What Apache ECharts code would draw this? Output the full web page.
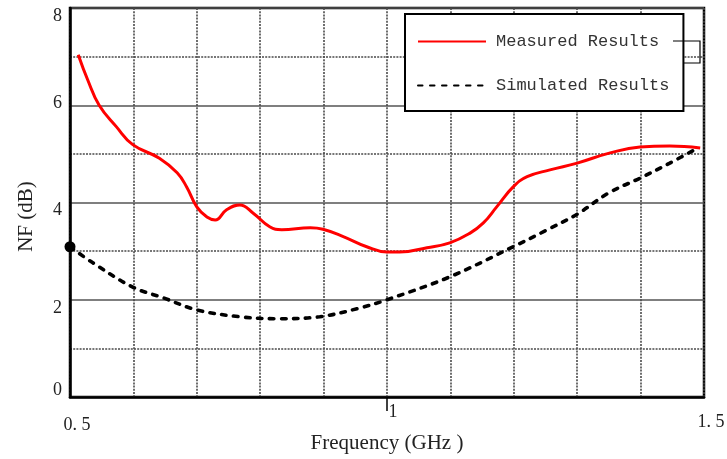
<!DOCTYPE html>
<html>
<head>
<meta charset="utf-8">
<script src="https://cdn.jsdelivr.net/npm/echarts@6/dist/echarts.min.js"></script>
<style>
  html, body { margin: 0; padding: 0; background: #fff; }
  #chart { width: 727px; height: 459px; }
</style>
</head>
<body>
<div id="chart"></div>
<script>
// Noise figure vs frequency
const measuredFreq = [0.513, 0.528, 0.546, 0.573, 0.599, 0.641, 0.669, 0.684, 0.700, 0.716, 0.729, 0.747, 0.768, 0.789, 0.815, 0.834, 0.879, 0.899, 0.931, 0.968, 1.000, 1.020, 1.063, 1.099, 1.131, 1.152, 1.173, 1.199, 1.221, 1.257, 1.300, 1.352, 1.399, 1.446, 1.494];
const measuredNF   = [7.04, 6.52, 6.00, 5.56, 5.19, 4.91, 4.61, 4.32, 3.91, 3.70, 3.64, 3.85, 3.95, 3.78, 3.50, 3.44, 3.48, 3.45, 3.30, 3.09, 2.98, 2.98, 3.07, 3.17, 3.37, 3.58, 3.91, 4.32, 4.53, 4.67, 4.81, 5.02, 5.14, 5.16, 5.12];

const simulatedFreq = [0.500, 0.536, 0.599, 0.647, 0.700, 0.768, 0.826, 0.894, 0.957, 1.000, 1.099, 1.199, 1.250, 1.300, 1.350, 1.399, 1.446, 1.490];
const simulatedNF   = [3.09, 2.76, 2.26, 2.04, 1.79, 1.65, 1.61, 1.65, 1.83, 2.00, 2.47, 3.09, 3.42, 3.76, 4.20, 4.50, 4.81, 5.12];

const xTickValues = [0.5, 1, 1.5];
const xTickTexts  = ['0. 5', '1', '1. 5'];
const yTickValues = [0, 2, 4, 6, 8];
const yTickTexts  = ['0', '2', '4', '6', '8'];

const seriesNames = ['Measured Results', 'Simulated Results'];

const serif = 'Liberation Serif';
const gridColor = '#4a4a4a';

const measuredData = measuredFreq.map((f, i) => [f, measuredNF[i]]);
const simulatedData = simulatedFreq.map((f, i) => (
  i === 0 ? { value: [f, simulatedNF[i]], symbol: 'circle', symbolSize: 11 } : [f, simulatedNF[i]]
));

function findIndex(values, v) {
  for (let i = 0; i < values.length; i++) if (Math.abs(values[i] - v) < 1e-6) return i;
  return -1;
}

const xRich = {
  a: { fontFamily: serif, fontSize: 18, color: '#222', padding: [13, 0, 0, 14] },
  b: { fontFamily: serif, fontSize: 18, color: '#222', padding: [0, 0, 0, 12] },
  c: { fontFamily: serif, fontSize: 18, color: '#222', padding: [10, 0, 0, 14] }
};
const xStyleKeys = ['a', 'b', 'c'];

const yRich = {
  p0: { fontFamily: serif, fontSize: 18, color: '#222', padding: [0, 0, 14, 0] },
  p2: { fontFamily: serif, fontSize: 18, color: '#222', padding: [17, 0, 0, 0] },
  p4: { fontFamily: serif, fontSize: 18, color: '#222', padding: [16, 0, 0, 0] },
  p6: { fontFamily: serif, fontSize: 18, color: '#222', padding: [0, 0, 4, 0] },
  p8: { fontFamily: serif, fontSize: 18, color: '#222', padding: [16, 0, 0, 0] }
};

const chart = echarts.init(document.getElementById('chart'), null, { renderer: 'canvas' });

chart.setOption({
  backgroundColor: '#fff',
  animation: false,
  grid: {
    left: 70, right: 23, top: 8, bottom: 62,
    containLabel: false,
    outerBoundsMode: 'none',
    show: true, borderColor: '#000', borderWidth: 2.5, backgroundColor: 'transparent'
  },
  legend: {
    orient: 'vertical',
    left: 405, top: 14,
    padding: [19, 14, 17, 12],
    itemWidth: 68, itemHeight: 14, itemGap: 27,
    backgroundColor: '#fff',
    borderColor: '#000', borderWidth: 2,
    data: seriesNames,
    itemStyle: { opacity: 0 },
    textStyle: { fontFamily: 'Liberation Mono', fontSize: 17, color: '#333', padding: [0, 0, 0, 5] }
  },
  xAxis: {
    type: 'value',
    min: 0.5, max: 1.5, interval: 0.1,
    name: 'Frequency (GHz )',
    nameLocation: 'middle', nameGap: 36,
    nameMoveOverlap: false,
    nameTextStyle: { fontFamily: serif, fontSize: 21, color: '#222' },
    axisLine: { show: true, onZero: false, lineStyle: { color: '#000', width: 2.5 } },
    axisTick: { show: false },
    axisLabel: {
      margin: 6,
      showMinLabel: true, showMaxLabel: true,
      formatter: v => {
        const i = findIndex(xTickValues, v);
        return i < 0 ? '' : '{' + xStyleKeys[i] + '|' + xTickTexts[i] + '}';
      },
      rich: xRich
    },
    splitLine: { show: true, lineStyle: { color: gridColor, width: 1.6, type: [2, 1.2] } }
  },
  yAxis: {
    type: 'value',
    min: 0, max: 8, interval: 2,
    name: 'NF (dB)',
    nameLocation: 'middle', nameGap: 33,
    nameMoveOverlap: false,
    nameTextStyle: { fontFamily: serif, fontSize: 21, color: '#222', padding: [0, 28, 0, 0] },
    axisLine: { show: true, lineStyle: { color: '#000', width: 2.5 } },
    axisTick: { show: false },
    minorTick: { show: false, splitNumber: 2 },
    minorSplitLine: { show: true, lineStyle: { color: gridColor, width: 1.6, type: [2, 1.2] } },
    axisLabel: {
      margin: 8,
      formatter: v => {
        const i = findIndex(yTickValues, v);
        return i < 0 ? '' : '{p' + yTickValues[i] + '|' + yTickTexts[i] + '}';
      },
      rich: yRich
    },
    splitLine: { show: true, lineStyle: { color: '#555', width: 1.6, type: 'solid' } }
  },
  series: [
    {
      name: seriesNames[0],
      type: 'line',
      data: measuredData,
      smooth: 0.45,
      symbol: 'none',
      lineStyle: { color: '#f00', width: 3 },
      itemStyle: { color: '#f00' },
      z: 3
    },
    {
      name: seriesNames[1],
      type: 'line',
      data: simulatedData,
      smooth: 0.35,
      symbol: 'none',
      lineStyle: { color: '#000', width: 3.6, type: [4.5, 7.5], cap: 'round' },
      itemStyle: { color: '#000' },
      z: 4
    }
  ]
});

// Tick mark under the 1 GHz grid line and the small bracket beside the legend
const tickX = chart.convertToPixel({ xAxisIndex: 0 }, 1);
const baseY = chart.convertToPixel({ yAxisIndex: 0 }, 0);
chart.setOption({
  graphic: [
    {
      type: 'line',
      shape: { x1: tickX, y1: baseY, x2: tickX, y2: baseY + 14 },
      style: { stroke: '#000', lineWidth: 1.5 },
      z: 10
    },
    {
      type: 'polyline',
      shape: { points: [[673, 41], [700, 41], [700, 63], [684, 63]] },
      style: { stroke: '#000', lineWidth: 1.2, fill: null },
      z: 10
    }
  ]
});
</script>
</body>
</html>
